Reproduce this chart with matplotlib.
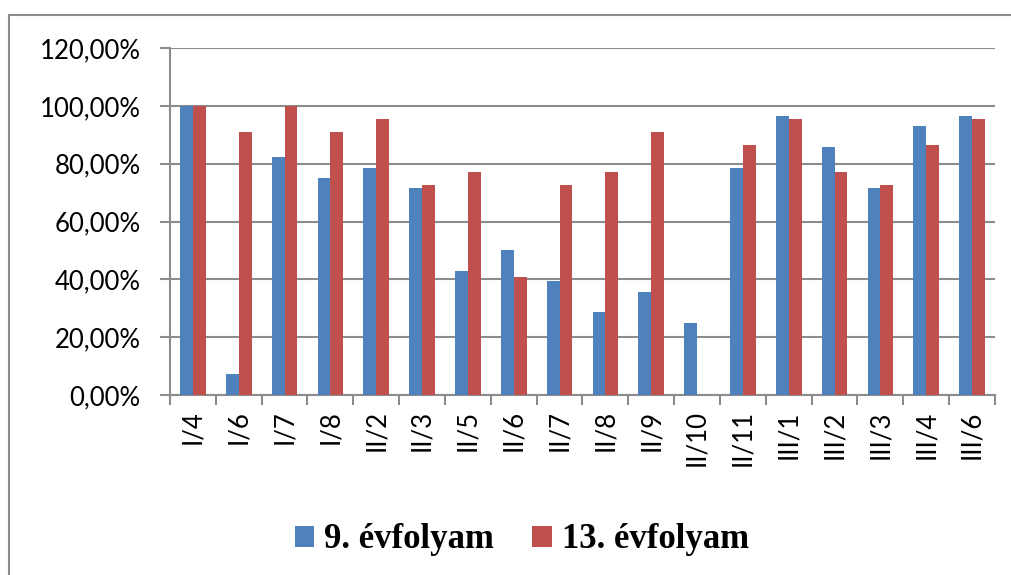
import numpy as np
import matplotlib.pyplot as plt
from matplotlib.patches import Rectangle
from matplotlib.ticker import FuncFormatter

categories = ["I/4", "I/6", "I/7", "I/8", "II/2", "II/3", "II/5", "II/6", "II/7",
              "II/8", "II/9", "II/10", "II/11", "III/1", "III/2", "III/3", "III/4", "III/6"]
evf9 = [100.0, 7.14, 82.14, 75.0, 78.57, 71.43, 42.86, 50.0, 39.29,
        28.57, 35.71, 25.0, 78.57, 96.43, 85.71, 71.43, 92.86, 96.43]
evf13 = [100.0, 90.91, 100.0, 90.91, 95.45, 72.73, 77.27, 40.91, 72.73,
         77.27, 90.91, 0.0, 86.36, 95.45, 77.27, 72.73, 86.36, 95.45]
series_names = ["9. évfolyam", "13. évfolyam"]

blue = "#4F81BD"
red = "#C0504D"
grid_col = "#8c8c8c"

W, H = 1011, 575
fig = plt.figure(figsize=(W / 100, H / 100), dpi=100)

# outer chart border (only top and left visible)
fig.add_artist(Rectangle((9 / W, -0.1), 1.2, (H - 15) / H + 0.1, transform=fig.transFigure,
                         fill=False, edgecolor="#8c8c8c", linewidth=1.5))

ax = fig.add_axes([170 / W, (H - 395) / H, (995 - 170) / W, (395 - 48) / H])

x = np.arange(len(categories))
bw = 0.28
ax.bar(x - bw / 2, evf9, bw, color=blue, label=series_names[0], zorder=3)
ax.bar(x + bw / 2, evf13, bw, color=red, label=series_names[1], zorder=3)

ax.set_xlim(-0.5, len(categories) - 0.5)
ax.set_ylim(0, 120)
ax.set_yticks(np.arange(0, 121, 20))
ax.yaxis.set_major_formatter(FuncFormatter(lambda v, p: f"{v:.2f}".replace(".", ",") + "%"))
ax.grid(axis="y", color=grid_col, linewidth=1.5, zorder=0)

ax.set_xticks(x)
ax.set_xticklabels(categories, rotation=90, fontsize=18.5, family="Lato")
ax.set_xticks(np.arange(-0.5, len(categories)), minor=True)
ax.tick_params(axis="x", which="major", length=0, pad=11)
ax.tick_params(axis="x", which="minor", length=7, width=1.5, color=grid_col, direction="out")
ax.tick_params(axis="y", length=7, width=1.5, color=grid_col, direction="out", pad=14)
for lab in ax.get_yticklabels():
    lab.set_fontsize(18.5)
    lab.set_family("Lato")

for s in ["top", "right"]:
    ax.spines[s].set_visible(False)
for s in ["left", "bottom"]:
    ax.spines[s].set_color(grid_col)
    ax.spines[s].set_linewidth(1.5)

fig.legend(loc="center", bbox_to_anchor=(522 / W, (H - 540) / H), ncol=2, frameon=False,
           prop={"family": "Liberation Serif", "weight": "bold", "size": 25},
           handlelength=0.55, handleheight=0.55, handletextpad=0.3, columnspacing=1.1)

fig.savefig("out.png", dpi=100)
